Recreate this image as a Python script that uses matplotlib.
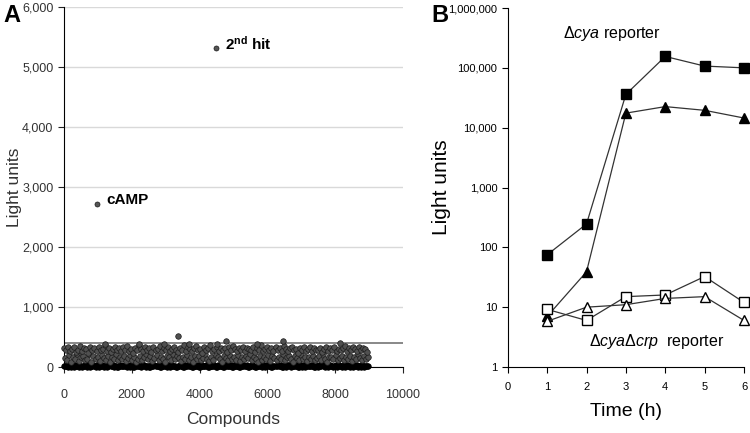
import numpy as np
import matplotlib
matplotlib.use('Agg')
import matplotlib.pyplot as plt
from matplotlib.ticker import FuncFormatter, FixedLocator, NullLocator

plt.rcParams['font.family'] = ['Liberation Sans', 'DejaVu Sans']
plt.rcParams['mathtext.fontset'] = 'custom'
plt.rcParams['mathtext.rm'] = 'Liberation Sans'
plt.rcParams['mathtext.it'] = 'Liberation Sans:italic'
plt.rcParams['mathtext.bf'] = 'Liberation Sans:bold'

# ---- panel A: screen readings (one value every 60 compounds, read by eye) ----
screen_step = 60
upper_vals = [310, 280, 340, 260, 300, 330, 250, 290, 350, 270, 320, 300, 240, 330, 290,
              310, 260, 340, 280, 300, 370, 270, 320, 250, 300, 340, 280, 310, 260, 330,
              290, 350, 270, 300, 240, 320, 280, 360, 300, 260, 330, 290, 310, 250, 340,
              280, 300, 350, 270, 320, 290, 330, 260, 300, 340, 280, 250, 310, 290, 360,
              270, 330, 300, 260, 320, 350, 280, 300, 240, 330, 290, 310, 360, 270, 300,
              340, 260, 320, 290, 310, 250, 330, 280, 350, 300, 270, 320, 290, 340, 260,
              310, 300, 280, 330, 250, 320, 290, 360, 270, 300, 340, 280, 310, 260, 330,
              290, 320, 270, 350, 300, 260, 310, 330, 280, 300, 240, 320, 290, 340, 270,
              300, 330, 260, 310, 290, 280, 320, 250, 300, 340, 270, 310, 290, 330, 260,
              300, 280, 320, 350, 270, 310, 290, 340, 300, 260, 330, 280, 310, 300, 250]
mid_vals = [150, 120, 200, 90, 170, 130, 210, 100, 160, 190, 110, 140, 220, 80, 180,
            130, 160, 100, 200, 150, 120, 190, 90, 170, 140, 210, 110, 160, 130, 180,
            100, 150, 200, 120, 170, 90, 140, 190, 110, 160, 220, 130, 180, 100, 150,
            200, 120, 170, 140, 90, 190, 160, 110, 210, 130, 180, 150, 100, 170, 140,
            200, 120, 160, 90, 190, 130, 180, 110, 150, 210, 140, 100, 170, 120, 200,
            160, 130, 90, 180, 150, 110, 190, 140, 170, 120, 200, 100, 160, 130, 180,
            150, 210, 110, 170, 140, 90, 190, 120, 160, 130, 200, 100, 180, 150, 120,
            170, 140, 210, 110, 160, 190, 130, 90, 180, 150, 120, 200, 140, 170, 100,
            160, 130, 190, 110, 150, 180, 120, 210, 140, 90, 170, 160, 130, 200, 110,
            150, 180, 120, 170, 140, 190, 100, 160, 130, 210, 150, 120, 180, 140, 170]
base_vals = [10, 25, 5, 30, 15, 0, 20, 35, 10, 5, 25, 15, 30, 0, 20,
             10, 35, 5, 25, 15, 20, 0, 30, 10, 40, 15, 5, 25, 20, 10,
             30, 0, 15, 35, 5, 20, 25, 10, 0, 30, 15, 20, 5, 40, 10,
             25, 15, 0, 30, 20, 10, 35, 5, 25, 15, 0, 20, 30, 10, 5,
             25, 40, 15, 0, 20, 10, 30, 5, 25, 15, 35, 0, 20, 10, 30,
             5, 25, 15, 0, 40, 20, 10, 30, 5, 15, 25, 0, 35, 10, 20,
             30, 5, 15, 25, 0, 20, 10, 40, 15, 5, 30, 25, 0, 20, 10,
             35, 15, 5, 25, 0, 30, 10, 20, 15, 40, 5, 25, 0, 30, 10,
             20, 15, 35, 5, 25, 0, 10, 30, 20, 15, 5, 40, 25, 10, 0,
             30, 20, 15, 5, 35, 25, 10, 0, 20, 30, 15, 5, 25, 10, 20]
# individual compounds standing out of the cloud
extra_x = [1200, 2200, 2950, 3370, 3700, 4500, 4780, 5700, 6450, 8150]
extra_y = [390, 390, 380, 510, 380, 380, 440, 390, 440, 395]
hit_names = ['cAMP', '2nd hit']
hit_x = [975, 4480]
hit_y = [2720, 5320]
threshold = 400

# ---- panel B: time course ----
hours = [1, 2, 3, 4, 5, 6]
cya_sq = [75, 246, 36000, 155000, 107000, 100000]
cya_tri = [7, 39, 17500, 22500, 19500, 14500]
crp_sq = [9.2, 6, 15, 16, 32.5, 12]
crp_tri = [5.8, 10, 11, 14, 15, 6]

fig = plt.figure(figsize=(7.5, 4.33), dpi=100)

# ---------- A ----------
axA = fig.add_axes([0.0853, 0.1524, 0.452, 0.8314])
sx = np.arange(len(upper_vals)) * screen_step
dot = dict(s=16, linewidth=0.5, zorder=3, clip_on=False)
axA.scatter(sx, base_vals, facecolor='black', edgecolor='black', **dot)
axA.scatter(sx + screen_step / 2, base_vals[::-1], facecolor='black', edgecolor='black', **dot)
axA.scatter(sx + screen_step / 2, mid_vals, facecolor='#505050', edgecolor='#1a1a1a', **dot)
axA.scatter(sx, upper_vals, facecolor='#505050', edgecolor='#1a1a1a', **dot)
axA.scatter(extra_x, extra_y, facecolor='#505050', edgecolor='#1a1a1a', **dot)
axA.scatter(hit_x, hit_y, s=13, facecolor='#555555', edgecolor='#1a1a1a',
            linewidth=0.5, zorder=3)
axA.axhline(threshold, color='#7f7f7f', lw=1.3, zorder=2)
axA.text(hit_x[0] + 270, hit_y[0] + 60, hit_names[0], fontsize=11, fontweight='bold',
         va='center', ha='left')
axA.text(hit_x[1] + 270, hit_y[1] + 60, r'2$^{\mathbf{nd}}$ hit', fontsize=11,
         fontweight='bold', va='center', ha='left')
axA.set_xlim(0, 10000)
axA.set_ylim(0, 6000)
axA.set_yticks(np.arange(0, 6001, 1000))
axA.yaxis.set_major_formatter(FuncFormatter(lambda v, p: f'{int(v):,}'))
axA.set_xticks(np.arange(0, 10001, 2000))
axA.grid(axis='y', color='#d9d9d9', lw=1)
axA.set_axisbelow(True)
for s in ('top', 'right'):
    axA.spines[s].set_visible(False)
axA.spines['left'].set_color('black')
axA.spines['bottom'].set_color('black')
axA.tick_params(labelsize=9, length=4, colors='#222222', labelcolor='#333333')
axA.tick_params(axis='x', pad=12)
axA.set_xlabel('Compounds', fontsize=12.5, color='#333333', labelpad=8)
axA.set_ylabel('Light units', fontsize=12.5, color='#333333')
axA.yaxis.set_label_coords(-0.125, 0.5)
fig.text(0.004, 0.965, 'A', fontsize=17, fontweight='bold', va='center')

# ---------- B ----------
axB = fig.add_axes([0.677, 0.1524, 0.315, 0.8291])
mk = dict(color='#333333', lw=0.9, markersize=6.5, markeredgecolor='black', clip_on=False)
axB.plot(hours, cya_sq, marker='s', markerfacecolor='black', **mk)
axB.plot(hours, cya_tri, marker='^', markerfacecolor='black', **mk)
axB.plot(hours, crp_sq, marker='s', markerfacecolor='white', **mk)
axB.plot(hours, crp_tri, marker='^', markerfacecolor='white', **mk)
axB.set_yscale('log')
axB.set_ylim(1, 1e6)
axB.set_xlim(0, 6)
axB.yaxis.set_major_locator(FixedLocator([1, 10, 100, 1e3, 1e4, 1e5, 1e6]))
axB.yaxis.set_minor_locator(NullLocator())
axB.yaxis.set_major_formatter(FuncFormatter(lambda v, p: f'{int(round(v)):,}'))
axB.set_xticks(range(0, 7))
for s in ('top', 'right'):
    axB.spines[s].set_visible(False)
axB.tick_params(labelsize=8, length=4)
axB.tick_params(axis='x', pad=7)
axB.set_xlabel('Time (h)', fontsize=14, labelpad=8)
axB.set_ylabel('Light units', fontsize=15)
axB.yaxis.set_label_coords(-0.24, 0.5)
axB.text(1.4, 3.8e5, r'$\Delta\mathit{cya}$ reporter', fontsize=11.5, va='center')
axB.text(2.06, 2.65, r'$\Delta\mathit{cya}\Delta\mathit{crp}$  reporter', fontsize=11.5,
         va='center')
fig.text(0.575, 0.965, 'B', fontsize=17, fontweight='bold', va='center')

fig.savefig('out.png', dpi=100)
